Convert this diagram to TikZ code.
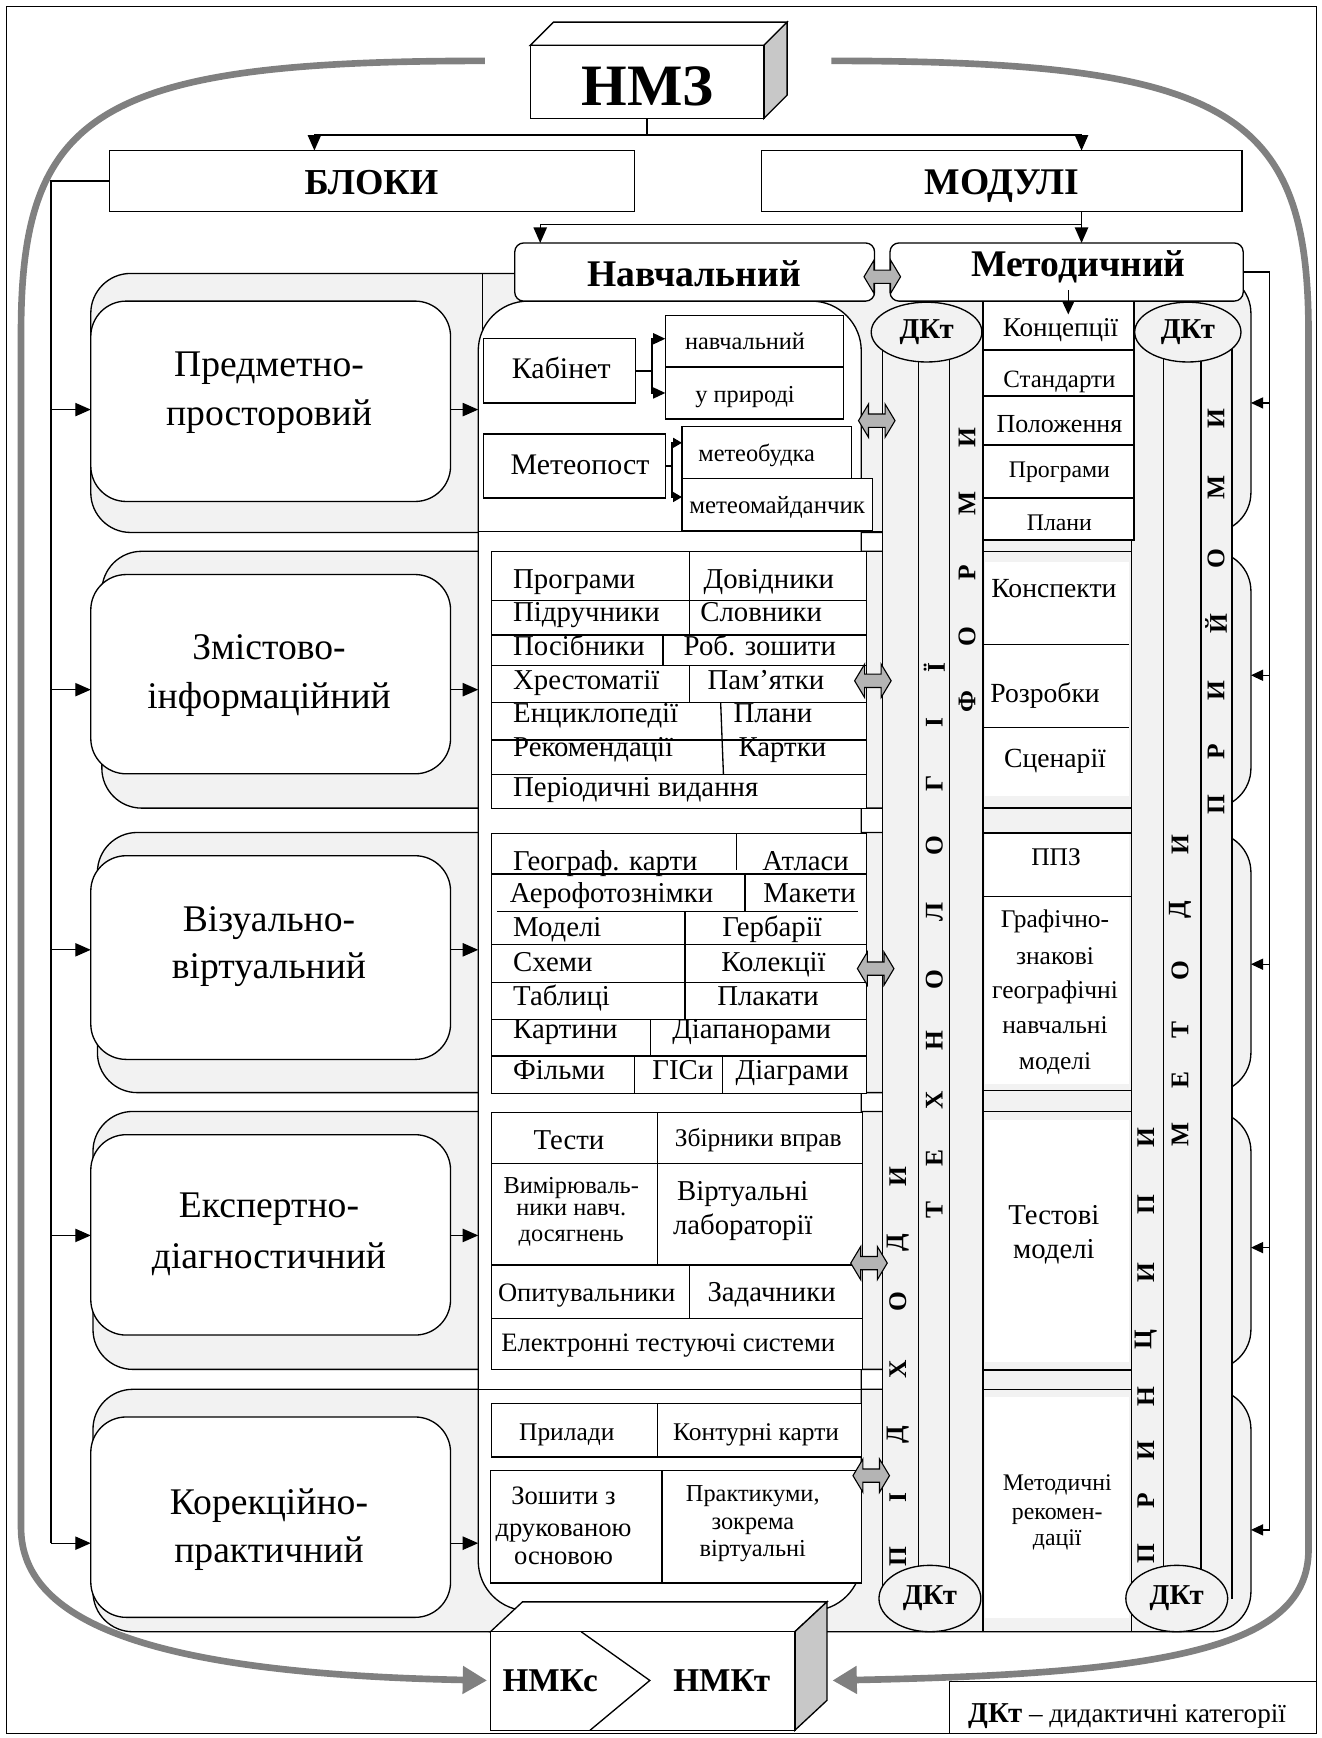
\documentclass[tikz,border=0pt]{standalone}
\usepackage{fontspec}
\setmainfont{Liberation Serif}
\usetikzlibrary{arrows.meta,shapes.geometric}
\definecolor{lg}{HTML}{F2F2F2}
\definecolor{arcgray}{HTML}{808080}
\definecolor{dagray}{HTML}{B4B4B4}
\definecolor{facegray}{HTML}{C8C8C8}
\newcommand\fz[2]{\fontsize{#1}{#2}\selectfont}
\newcommand\bx[6][]{\node[bxs,#1,minimum width={#5pt-#3pt},minimum height={#6pt-#4pt}] (#2) at (#3,#4) {};}
\newcommand\dbl[2]{\draw[fill=dagray,line width=1pt,shift={(#1,#2)}] (-16.5,0) -- (-7.5,-15) -- (-7.5,-6) -- (7.5,-6) -- (7.5,-15) -- (16.5,0) -- (7.5,15) -- (7.5,6) -- (-7.5,6) -- (-7.5,15) -- cycle;}
\begin{document}
\begin{tikzpicture}[x=1pt,y=-1pt,line width=1.2pt,
  bxs/.style={draw,fill=white,inner sep=0pt,outer sep=0pt,anchor=north west},
  tx/.style={inner sep=0pt,anchor=base},
  txl/.style={inner sep=0pt,anchor=base west},
  arr/.style={-{Triangle[length=14pt,width=12pt]}},
  sarr/.style={-{Triangle[length=11pt,width=10pt]}},
  tarr/.style={-{Triangle[length=8pt,width=9pt]}},
  garc/.style={line width=6pt,draw=arcgray,-{Triangle[length=22pt,width=24pt]}},
  gband/.style={draw,fill=lg,rounded corners=36pt},
  dk/.style={draw,fill=lg,ellipse,inner sep=0pt,font=\fz{26}{28}\bfseries},
  vl/.style={rotate=90,inner sep=0pt,font=\fz{23}{24}\bfseries}
]
\useasboundingbox (0,0) rectangle (1194,1570);
\draw (6,6) rectangle (1189,1566);
% grey rows
\draw[gband] (82,247) rectangle (1130,481);
\draw[gband] (92,498) rectangle (1130,730);
\draw[gband] (88,752) rectangle (1130,987);
\draw[gband] (84,1004) rectangle (1130,1237);
\draw[gband] (84,1255) rectangle (1130,1474);
% strips background
\fill[lg] (797,300) rectangle (1113,1444);
% content box of Navchalnyi
\node[bxs,rounded corners=45pt,minimum width=346pt,minimum height=1183pt] (cbox) at (432,272) {};
\draw (436,247) -- (436,299);
\draw (432,480) -- (797,480);
\draw (432,1255) -- (797,1255);
% ---- row 1 content
\bx{kab}{437}{306}{574}{364}
\node[tx] (kabt) at (507,341.6) {\fz{27}{30}Кабінет};
\bx{nav1}{601}{285}{762}{331.5}
\node[tx] (nav1t) at (673,316) {\fz{22}{24}навчальний};
\bx{nav2}{601}{331.5}{762}{378.5}
\node[tx] (nav2t) at (673,364) {\fz{22}{24}у природі};
\coordinate (kj) at (589,335);
\coordinate (kj1) at (589,306);
\coordinate (kj2) at (589,355);
\draw (kab.east) -- (kj);
\draw[sarr] (kj2) -- (kj1) -- (kj1 -| nav1.west);
\draw[sarr] (kj1) -- (kj2) -- (kj2 -| nav2.west);
\bx{met}{437}{392}{601}{450}
\node[tx] (mett) at (524,429) {\fz{27}{30}Метеопост};
\bx{mb}{616}{385.5}{769}{432}
\node[tx] (mbt) at (683.5,417) {\fz{22}{24}метеобудка};
\bx{mm}{616}{432}{788}{479}
\node[tx] (mmt) at (702,463.5) {\fz{22.5}{24}метеомайданчик};
\coordinate (mj) at (607,421);
\coordinate (mj1) at (607,400);
\coordinate (mj2) at (607,449);
\draw (met.east) -- (mj);
\draw[tarr] (mj2) -- (mj1) -- (mj1 -| mb.west);
\draw[tarr] (mj1) -- (mj2) -- (mj2 -| mm.west);
% ---- row 2 table
\bx{t2}{444}{498.4}{783}{730.2}
\foreach \y in {542.6,573.6,601.3,634.8,668.5,699.5} \draw (444,\y) -- (783,\y);
\draw (622.7,498.4) -- (622.7,573.6);
\draw (599,573.6) -- (599,601.3);
\draw (622.7,601.3) -- (622.7,634.8);
\draw (651,634.8) -- (653.5,699.5);
\foreach \t/\x/\y [count=\i] in {Програми/463/532, Довідники/635/532, Підручники/463/561.6, Словники/632/561.6, Посібники/463/591.7, Роб. зошити/617/591.7, Хрестоматії/463/622.5, Пам’ятки/638.6/622.5, Енциклопедії/463/653, Плани/662/653, Рекомендації/463/683.5, Картки/666.6/683.5, Періодичні видання/463/719.7}
  \node[txl] (t2c\i) at (\x,\y) {\fz{26}{28}\t};
% ---- row 3 table
\bx{t3}{444}{752.8}{783}{987.6}
\foreach \y in {789.5,853,887.4,920.8,954} \draw (444,\y) -- (783,\y);
\draw (449,823.5) -- (775,823.5);
\draw (665.5,752.8) -- (665.5,786);
\draw (673,789.5) -- (673,823.5);
\draw (618.8,823.5) -- (618.8,920.8);
\draw (587.8,920.8) -- (587.8,954);
\draw (573,954) -- (573,987.6);
\draw (652.5,954) -- (652.5,987.6);
\foreach \t/\x/\y [count=\i] in {Географ. карти/463/786, Атласи/688/786, Аерофотознімки/460/815.4, Макети/689/815.4, Моделі/463/846.4, Гербарії/652/846.4, Схеми/463/877.7, Колекції/651/877.7, Таблиці/463/908, Плакати/647.4/908, Картини/463/937.8, Діапанорами/606.7/937.8, Фільми/463/975, ГІСи/588.7/975, Діаграми/664/975}
  \node[txl] (t3c\i) at (\x,\y) {\fz{26}{28}\t};
% ---- row 4 table
\bx{t4}{444}{1005}{779}{1237}
\foreach \y in {1050.8,1142.7,1190.9} \draw (444,\y) -- (779,\y);
\draw (593.8,1005) -- (593.8,1142.7);
\draw (622.7,1142.7) -- (622.7,1190.9);
\node[tx] (t4a) at (514,1038) {\fz{26}{28}Тести};
\node[tx] (t4b) at (685,1036) {\fz{23}{26}Збірники вправ};
\node[tx] (t4c) at (516,1078) {\fz{22}{24}Вимірюваль-};
\node[tx] (t4d) at (516,1097.6) {\fz{22}{24}ники навч.};
\node[tx] (t4e) at (516,1121.7) {\fz{22}{24}досягнень};
\node[tx] (t4f) at (671,1084) {\fz{26}{28}Віртуальні};
\node[tx] (t4g) at (671,1115.6) {\fz{26}{28}лабораторії};
\node[tx] (t4h) at (530,1176) {\fz{24}{26}Опитувальники};
\node[tx] (t4i) at (697,1176) {\fz{26}{28}Задачники};
\node[tx] (t4j) at (603.6,1221) {\fz{24}{26}Електронні тестуючі системи};
% ---- row 5 table
\bx{t5a}{444}{1268}{778}{1316}
\draw (594,1268) -- (594,1316);
\node[tx] (t5a1) at (512,1301) {\fz{23}{26}Прилади};
\node[tx] (t5a2) at (683,1301) {\fz{23}{26}Контурні карти};
\bx{t5b}{443}{1328.5}{778}{1430}
\draw (598,1328.5) -- (598,1430);
\node[tx] (t5b1) at (509,1359.5) {\fz{24}{26}Зошити з};
\node[tx] (t5b2) at (509,1388) {\fz{24}{26}друкованою};
\node[tx] (t5b3) at (509,1413.7) {\fz{24}{26}основою};
\node[tx] (t5b4) at (680,1356.5) {\fz{22}{24}Практикуми,};
\node[tx] (t5b5) at (680,1382) {\fz{22}{24}зокрема};
\node[tx] (t5b6) at (680,1406) {\fz{22}{24}віртуальні};
% ---- strip lines
\draw (797,300) -- (797,1444);
\draw (830,300) -- (830,1444);
\draw (858,300) -- (858,1444);
\draw (888,271) -- (888,1474);
\draw (1022,271) -- (1022,1474);
\draw (1051,300) -- (1051,1444);
\draw (1085,300) -- (1085,1444);
\draw (1113,300) -- (1113,1444);
% ---- Metodychnyi column
\bx[line width=1.8pt]{k1}{888}{271}{1024}{316}
\node[tx] (k1t) at (958,303.6) {\fz{24.5}{26}Концепції};
\bx[line width=1.8pt]{k2}{888}{316}{1024}{358}
\node[tx] (k2t) at (957,350) {\fz{22.5}{24}Стандарти};
\bx[line width=1.8pt]{k3}{888}{358}{1024}{402}
\node[tx] (k3t) at (957,391) {\fz{23.5}{26}Положення};
\bx[line width=1.8pt]{k4}{888}{402}{1024}{450}
\node[tx] (k4t) at (957,431) {\fz{21.5}{24}Програми};
\bx[line width=1.8pt]{k5}{888}{450}{1024}{488}
\node[tx] (k5t) at (957,479) {\fz{21.5}{24}Плани};
\draw (888,498) -- (1022,498);
\fill[white] (890,508) rectangle (1020,719);
\draw (888,582) -- (1020,582);
\draw (888,657) -- (1020,657);
\draw (888,730) -- (1022,730);
\node[tx] (m2a) at (952,540) {\fz{25}{28}Конспекти};
\node[tx] (m2b) at (944,635) {\fz{25}{28}Розробки};
\node[tx] (m2c) at (953,693.3) {\fz{25}{28}Сценарії};
\fill[white] (890,752.6) rectangle (1020,979);
\draw (888,752.6) -- (1022,752.6);
\draw (888,810) -- (1022,810);
\draw (888,985) -- (1022,985);
\node[tx] (m3a) at (954,782) {\fz{23}{26}ППЗ};
\foreach \t/\y [count=\i] in {Графічно-/838, знакові/871, географічні/902, навчальні/934, моделі/966}
  \node[tx] (m3b\i) at (953,\y) {\fz{23}{26}\t};
\draw (888,1004) -- (1022,1004);
\fill[white] (890,1011.7) rectangle (1020,1230);
\draw (888,1237.6) -- (1022,1237.6);
\node[tx] (m4a) at (952,1106) {\fz{26}{28}Тестові};
\node[tx] (m4b) at (952,1136.4) {\fz{26}{28}моделі};
\draw (888,1255) -- (1022,1255);
\fill[white] (890,1261.7) rectangle (1020,1462);
\node[tx] (m5a) at (955,1346) {\fz{21.5}{24}Методичні};
\node[tx] (m5b) at (955,1373) {\fz{21.5}{24}рекомен-};
\node[tx] (m5c) at (955,1396) {\fz{21.5}{24}дації};
% ---- ellipses
\node[dk,minimum width=100pt,minimum height=54pt] (dk1) at (837,300) {ДКт};
\node[dk,minimum width=96pt,minimum height=54pt] (dk2) at (1073,300) {ДКт};
\node[dk,minimum width=92pt,minimum height=60pt] (dk3) at (840,1444) {ДКт};
\node[dk,minimum width=92pt,minimum height=60pt] (dk4) at (1063,1444) {ДКт};
% ---- vertical letters
\foreach \l/\y [count=\i] in {П/1406, І/1353, Д/1296, Х/1237, О/1176, Д/1123, И/1063}
  \node[vl] (la\i) at (811,\y) {\l};
\foreach \l/\y [count=\i] in {Т/1093, Е/1046, Х/994, Н/940, О/885, Л/824, О/764, Г/708, І/653, Ї/603}
  \node[vl] (lb\i) at (844,\y) {\l};
\foreach \l/\y [count=\i] in {Ф/634, О/575, Р/517, М/455, И/395}
  \node[vl] (lc\i) at (873.5,\y) {\l};
\foreach \l/\y [count=\i] in {П/1403, Р/1356, И/1310, Н/1262, Ц/1210, И/1150, П/1088, И/1028}
  \node[vl] (ld\i) at (1035,\y) {\l};
\foreach \l/\y [count=\i] in {М/1025, Е/976, Т/930, О/877, Д/822, И/763}
  \node[vl] (le\i) at (1066,\y) {\l};
\foreach \l/\y [count=\i] in {П/727, Р/679, И/624, Й/563, О/505, М/440, И/378}
  \node[vl] (lf\i) at (1098.5,\y) {\l};
% ---- module headers
\node[bxs,rounded corners=8pt,minimum width=325pt,minimum height=52.5pt] (nav) at (465,219.5) {};
\node[tx] (navt) at (627,259) {\fz{34}{36}\bfseries Навчальний};
\node[bxs,rounded corners=8pt,minimum width=319pt,minimum height=52.5pt] (metod) at (804,219.5) {};
\node[tx] (metodt) at (974,250) {\fz{34}{36}\bfseries Методичний};
\coordinate (ka) at (965,262);
\draw[sarr] (ka) -- (ka |- 0,284);
% ---- top
\node[bxs,minimum width=474pt,minimum height=55pt] (bloky) at (99,136) {};
\node[tx] (blokyt) at (335.5,176) {\fz{33}{36}\bfseries БЛОКИ};
\node[bxs,minimum width=434pt,minimum height=55pt] (moduli) at (688,136) {};
\node[tx] (modulit) at (905,176) {\fz{34}{36}\bfseries МОДУЛІ};
\draw[fill=white] (479,41) -- (500,20) -- (711,20) -- (690,41) -- cycle;
\draw[fill=facegray] (690,41) -- (711,20) -- (711,86) -- (690,107) -- cycle;
\node[bxs,minimum width=211pt,minimum height=66pt] (nmz) at (479,41) {};
\node[tx] (nmzt) at (585,95) {\fz{53}{56}\bfseries НМЗ};
\coordinate (jl) at (284,122);
\coordinate (jr) at (977,122);
\draw[arr] (nmz.south) |- (jl) -- (jl |- bloky.north);
\draw[arr] (nmz.south) |- (jr) -- (jr |- moduli.north);
\coordinate (mj0) at (977,203);
\coordinate (mjl) at (488,203);
\draw (moduli.south -| mj0) -- (mj0);
\draw[arr] (mj0) -- (mjl) -- (mjl |- nav.north);
\draw[arr] (mj0) -- (mj0 |- metod.north);
% ---- double arrows
\dbl{797}{250}
\dbl{792}{380}
\dbl{788.5}{615}
\dbl{791}{875}
\dbl{785}{1141}
\dbl{787}{1333}
% ---- left blocks
\node[bxs,rounded corners=32pt,minimum width=325pt,minimum height=181pt] (b1) at (82,272) {};
\node[bxs,rounded corners=32pt,minimum width=325pt,minimum height=180pt] (b2) at (82,519) {};
\node[bxs,rounded corners=32pt,minimum width=325pt,minimum height=184pt] (b3) at (82,773) {};
\node[bxs,rounded corners=32pt,minimum width=325pt,minimum height=181pt] (b4) at (82,1025) {};
\node[bxs,rounded corners=32pt,minimum width=325pt,minimum height=181pt] (b5) at (82,1280) {};
\node[tx] (b1a) at (243,340) {\fz{34}{40}Предметно-};
\node[tx] (b1b) at (243,384) {\fz{34}{40}просторовий};
\node[tx] (b2a) at (243,596) {\fz{34}{40}Змістово-};
\node[tx] (b2b) at (243,640) {\fz{34}{40}інформаційний};
\node[tx] (b3a) at (243,841) {\fz{34}{40}Візуально-};
\node[tx] (b3b) at (243,884) {\fz{34}{40}віртуальний};
\node[tx] (b4a) at (243,1100) {\fz{34}{40}Експертно-};
\node[tx] (b4b) at (243,1146) {\fz{34}{40}діагностичний};
\node[tx] (b5a) at (243,1368) {\fz{34}{40}Корекційно-};
\node[tx] (b5b) at (243,1411) {\fz{34}{40}практичний};
\coordinate (bus1) at (46,370);
\coordinate (bus2) at (46,623);
\coordinate (bus3) at (46,858);
\coordinate (bus4) at (46,1116);
\coordinate (bus5) at (46,1394);
\draw (bloky.west) -| (bus5);
\foreach \i in {1,...,5} {
  \draw[arr] (bus\i) -- (bus\i -| b\i.west);
  \draw[arr] (bus\i -| b\i.east) -- (bus\i -| cbox.west);
}
% ---- right bus
\coordinate (rb1) at (1147,364);
\coordinate (rb2) at (1147,610);
\coordinate (rb3) at (1147,871);
\coordinate (rb4) at (1147,1127);
\coordinate (rb5) at (1147,1382);
\draw (metod.east) -| (rb5);
\foreach \i in {1,...,5} \draw[sarr] (rb\i) -- ++(-17,0);
% ---- grey arcs
\draw[garc] (438,55) .. controls (90,55) and (19,100) .. (19,300) -- (19,1380) .. controls (19,1470) and (150,1512) .. (440,1518);
\draw[garc] (751,55) .. controls (1110,55) and (1182,100) .. (1182,300) -- (1182,1400) .. controls (1182,1490) and (1050,1512) .. (752,1518);
% ---- NMK box
\draw[fill=white] (443,1474) -- (472,1447) -- (747,1447) -- (718,1474) -- cycle;
\draw[fill=facegray] (718,1474) -- (747,1447) -- (747,1536) -- (718,1563) -- cycle;
\node[bxs,minimum width=275pt,minimum height=89pt] (nmk) at (443,1474) {};
\draw (525,1474) -- (587,1518) -- (533,1563);
\node[tx] (nmkc) at (497,1528) {\fz{30}{32}\bfseries НМКс};
\node[tx] (nmkt) at (652,1528) {\fz{30}{32}\bfseries НМКт};
% ---- legend
\node[bxs,minimum width=331pt,minimum height=47pt] (leg) at (858,1519) {};
\node[txl] (legt) at (874,1556) {\fz{26}{28}\bfseries ДКт\mdseries\fz{24.5}{26} – дидактичні категорії};
\end{tikzpicture}
\end{document}
